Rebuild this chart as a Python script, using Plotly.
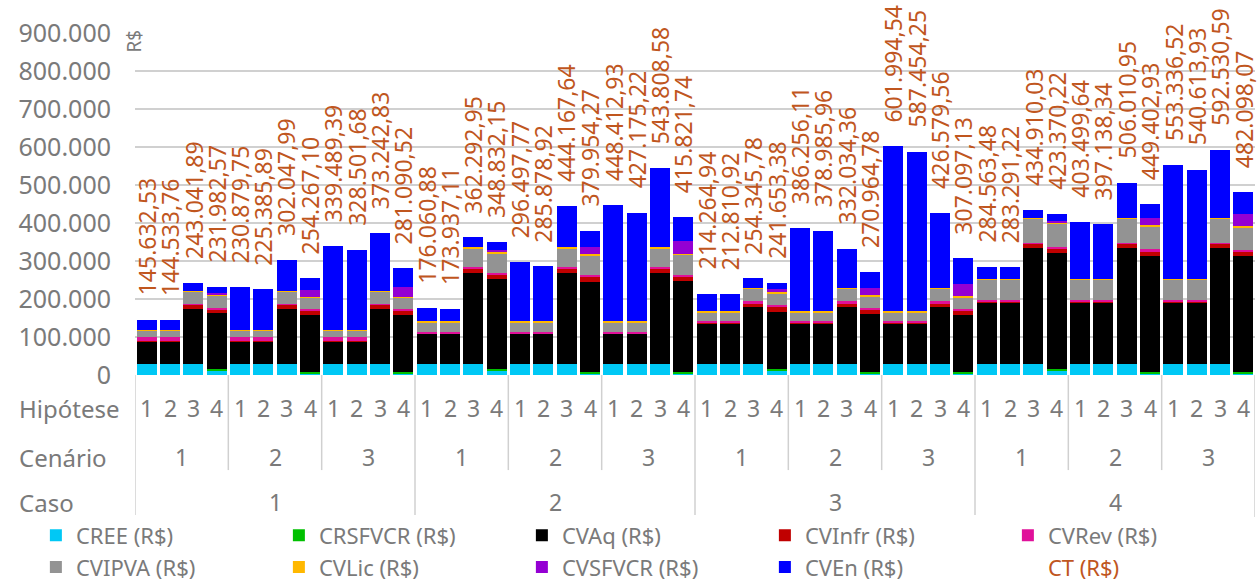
import plotly.graph_objects as go

# ---------------- data (order: Caso 1..4 > Cenário 1..3 > Hipótese 1..4) ----------------
casos = ["1", "2", "3", "4"]
cenarios = ["1", "2", "3"]
hipoteses = ["1", "2", "3", "4"]

CREE = [29000, 29000, 29000, 11000,  29000, 29000, 29000, 5000,  29000, 29000, 29000, 5000,
        29000, 29000, 29000, 11000,  29000, 29000, 29000, 5000,  29000, 29000, 29000, 5000,
        29000, 29000, 29000, 11000,  29000, 29000, 29000, 5000,  29000, 29000, 29000, 5000,
        29000, 29000, 29000, 11000,  29000, 29000, 29000, 5000,  29000, 29000, 29000, 5000]
CRSFVCR = [0, 0, 0, 5000,  0, 0, 0, 4000,  0, 0, 0, 4000,
           0, 0, 0, 5000,  0, 0, 0, 4000,  0, 0, 0, 2000,
           0, 0, 0, 5000,  0, 0, 0, 4000,  0, 0, 0, 2000,
           0, 0, 0, 5000,  0, 0, 0, 4000,  0, 0, 0, 2000]
CVAq = [60000, 60000, 146000, 146000,  60000, 60000, 146000, 150000,  60000, 60000, 146000, 150000,
        80000, 80000, 240000, 237000,  80000, 80000, 240000, 237000,  80000, 80000, 240000, 240000,
        107000, 107000, 149000, 151000,  107000, 107000, 149000, 151000,  107000, 107000, 149000, 151000,
        163000, 163000, 304000, 305000,  163000, 163000, 304000, 305000,  163000, 163000, 304000, 305000]
CVInfr = [1000, 1000, 10000, 11000,  1000, 1000, 10000, 12000,  1000, 1000, 10000, 12000,
          1000, 1000, 10000, 11000,  1000, 1000, 10000, 12000,  1000, 1000, 10000, 12000,
          1000, 1000, 11000, 12000,  1000, 1000, 11000, 12000,  1000, 1000, 11000, 12000,
          1000, 1000, 12000, 12000,  1000, 1000, 12000, 12000,  1000, 1000, 12000, 12000]
CVRev = [9000, 9000, 3000, 4000,  9000, 9000, 3000, 4000,  9000, 9000, 3000, 4000,
         4000, 4000, 4000, 5000,  4000, 4000, 4000, 5000,  4000, 4000, 4000, 5000,
         4000, 4000, 5000, 5000,  4000, 4000, 5000, 5000,  4000, 4000, 5000, 5000,
         4000, 4000, 3000, 5000,  4000, 4000, 3000, 5000,  4000, 4000, 3000, 5000]
CVIPVA = [17000, 17000, 32000, 31000,  17000, 17000, 32000, 29000,  17000, 17000, 32000, 29000,
          25000, 25000, 50000, 52000,  25000, 25000, 50000, 52000,  25000, 25000, 50000, 52000,
          24000, 24000, 33000, 31000,  24000, 24000, 33000, 30000,  24000, 24000, 33000, 30000,
          53000, 53000, 63000, 61000,  53000, 53000, 63000, 60000,  53000, 53000, 63000, 60000]
CVLic = [2000, 2000, 2000, 2000,  2000, 2000, 2000, 2000,  2000, 2000, 2000, 2000,
         3000, 3000, 3000, 3000,  3000, 3000, 3000, 3000,  3000, 3000, 3000, 3000,
         3000, 3000, 3000, 3000,  3000, 3000, 3000, 3000,  3000, 3000, 3000, 3000,
         3000, 3000, 3000, 3000,  3000, 3000, 3000, 3000,  3000, 3000, 3000, 3000]
CVSFVCR = [0, 0, 0, 7000,  0, 0, 0, 18000,  0, 0, 0, 26000,
           0, 0, 0, 6000,  0, 0, 0, 20000,  0, 0, 0, 33000,
           0, 0, 0, 8000,  0, 0, 0, 20000,  0, 0, 0, 32000,
           0, 0, 0, 4000,  0, 0, 0, 20000,  0, 0, 0, 32000]
CVEn = [27600, 26500, 21000, 15000,  112900, 107400, 80000, 30300,  221500, 210500, 151200, 49100,
        34100, 31900, 26300, 18800,  154500, 143900, 108200, 42000,  306400, 285200, 207800, 63800,
        46300, 44800, 24300, 15700,  218300, 211000, 102000, 41000,  434000, 419500, 196600, 67100,
        31600, 30300, 20900, 17400,  150500, 144100, 92000, 35400,  300300, 287600, 178500, 58100]
CT = [145632.53, 144533.76, 243041.89, 231982.57,  230879.75, 225385.89, 302047.99, 254267.10,
      339489.39, 328501.68, 373242.83, 281090.52,
      176060.88, 173937.11, 362292.95, 348832.15,  296497.77, 285878.92, 444167.64, 379954.27,
      448412.93, 427175.22, 543808.58, 415821.74,
      214264.94, 212810.92, 254345.78, 241653.38,  386256.11, 378985.96, 332034.36, 270964.78,
      601994.54, 587454.25, 426579.56, 307097.13,
      284563.48, 283291.22, 434910.03, 423370.22,  403499.64, 397138.34, 506010.95, 449402.93,
      553336.52, 540613.93, 592530.59, 482098.07]

series = [
    ("CREE (R$)", CREE, "#00C8F5"),
    ("CRSFVCR (R$)", CRSFVCR, "#00C000"),
    ("CVAq (R$)", CVAq, "#000000"),
    ("CVInfr (R$)", CVInfr, "#C00000"),
    ("CVRev (R$)", CVRev, "#E0109A"),
    ("CVIPVA (R$)", CVIPVA, "#939393"),
    ("CVLic (R$)", CVLic, "#FFB800"),
    ("CVSFVCR (R$)", CVSFVCR, "#9400D3"),
    ("CVEn (R$)", CVEn, "#0000FF"),
]

FONT = "Noto Sans"
GRAY = "#7a7a7a"
CTCOL = "#C0561E"
LINE = "#d0d0d0"

n = len(CT)
xs = list(range(n))


def fmt_br(v):
    s = f"{v:,.2f}"
    return s.replace(",", "X").replace(".", ",").replace("X", ".")


fig = go.Figure()
for name, vals, col in series:
    fig.add_trace(go.Bar(x=xs, y=vals, name=name, marker=dict(color=col, line=dict(width=0)),
                         hoverinfo="skip"))
fig.add_trace(go.Scatter(x=[None], y=[None], mode="lines", line=dict(color="rgba(0,0,0,0)", width=0),
                         name=f'<span style="color:{CTCOL}">CT (R$)</span>'))

annotations = []
# CT value labels
for i, v in enumerate(CT):
    annotations.append(dict(x=i, y=v, xref="x", yref="y", text=fmt_br(v), showarrow=False,
                            textangle=-90, xanchor="center", yanchor="bottom", yshift=22,
                            font=dict(family=FONT, size=23, color=CTCOL)))

# hierarchical category axis
Y_H, Y_C, Y_K = -0.097, -0.240, -0.372
for i in range(n):
    annotations.append(dict(x=i, y=Y_H, xref="x", yref="paper", text=hipoteses[i % 4], showarrow=False,
                            xanchor="center", yanchor="middle", font=dict(family=FONT, size=23, color=GRAY)))
ncen = len(casos) * len(cenarios)
for g in range(ncen):
    annotations.append(dict(x=4 * g + 1.5, y=Y_C, xref="x", yref="paper", text=cenarios[g % 3],
                            showarrow=False, xanchor="center", yanchor="middle",
                            font=dict(family=FONT, size=23, color=GRAY)))
for k, c in enumerate(casos):
    annotations.append(dict(x=12 * k + 5.5, y=Y_K, xref="x", yref="paper", text=c, showarrow=False,
                            xanchor="center", yanchor="middle", font=dict(family=FONT, size=23, color=GRAY)))
for label, yy in (("Hipótese", Y_H), ("Cenário", Y_C), ("Caso", Y_K)):
    annotations.append(dict(x=-0.105, y=yy, xref="paper", yref="paper", text=label, showarrow=False,
                            xanchor="left", yanchor="middle", font=dict(family=FONT, size=24, color=GRAY)))
# R$ axis title
annotations.append(dict(x=0, y=1.0, xref="paper", yref="paper", text="R$", showarrow=False,
                        textangle=-90, xanchor="left", yanchor="top", xshift=-17, yshift=5,
                        font=dict(family=FONT, size=19, color=GRAY)))

shapes = []
for g in range(ncen + 1):
    xb = 4 * g - 0.5
    bottom = -0.415 if g % 3 == 0 else -0.278
    shapes.append(dict(type="line", xref="x", yref="paper", x0=xb, x1=xb, y0=0, y1=bottom,
                       line=dict(color=LINE, width=1.5)))

fig.update_layout(
    width=1259, height=584,
    margin=dict(l=135, r=4, t=33, b=209, autoexpand=False),
    barmode="stack", bargap=0.14,
    plot_bgcolor="white", paper_bgcolor="white",
    separators=",.",
    font=dict(family=FONT, color=GRAY, size=23),
    xaxis=dict(range=[-0.5, n - 0.5], showticklabels=False, showgrid=False, zeroline=False,
               ticks="", showline=False, automargin=False),
    yaxis=dict(range=[0, 900000], dtick=100000, tickformat=",d", showgrid=True, gridcolor=LINE,
               gridwidth=1.5, zeroline=False, showline=False, ticks="", automargin=False,
               tickfont=dict(family=FONT, size=25, color=GRAY), ticklabelstandoff=23),
    legend=dict(orientation="h", xref="paper", yref="paper", x=-0.0885, y=-0.408,
                xanchor="left", yanchor="top", entrywidth=198, entrywidthmode="pixels",
                font=dict(family=FONT, size=22, color=GRAY), traceorder="normal",
                itemclick=False, itemdoubleclick=False),
    annotations=annotations,
    shapes=shapes,
    showlegend=True,
)

fig.write_html("out.html", config={"displayModeBar": False},
               post_script="document.body.style.margin='0px';")
